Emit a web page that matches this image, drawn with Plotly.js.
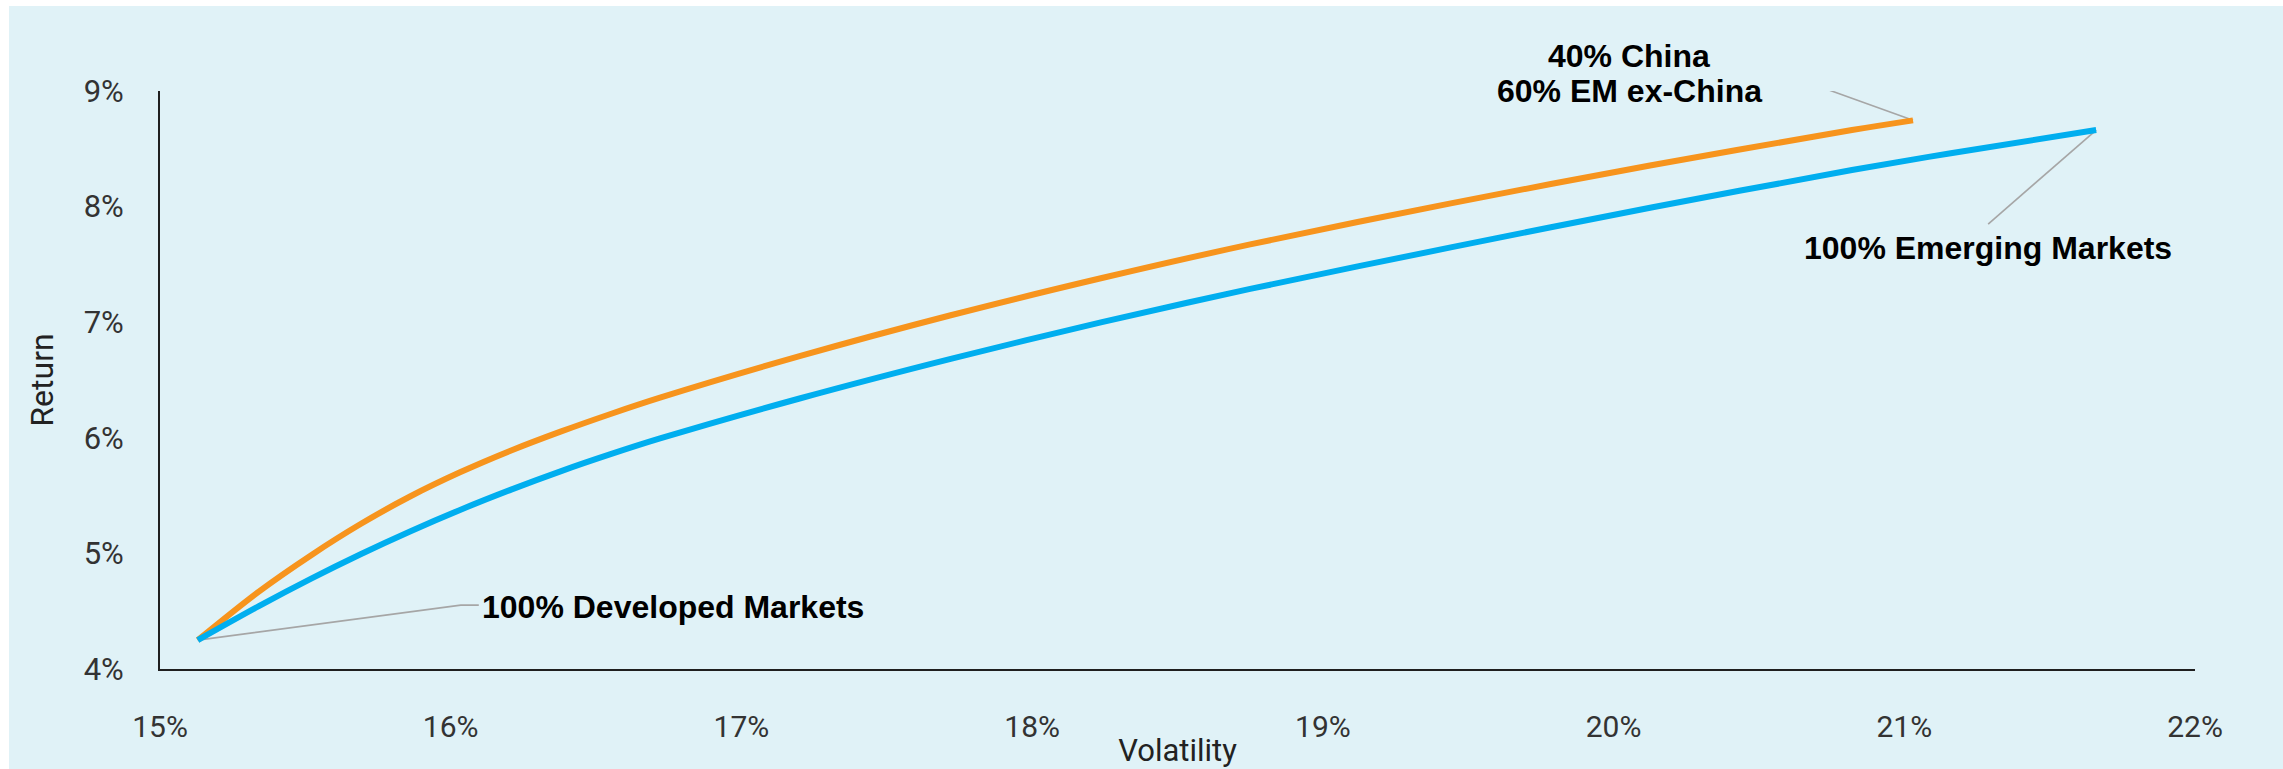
<!DOCTYPE html>
<html>
<head>
<meta charset="utf-8">
<script src="https://cdn.plot.ly/plotly-3.0.1.min.js"></script>
<style>
  html, body { margin: 0; padding: 0; background: #ffffff; }
  #chart { position: absolute; left: 9px; top: 6px; width: 2274px; height: 763px; }
</style>
</head>
<body>
<div id="chart"></div>
<script>
// Volatility (%) and Return (%)
const chinaMixVol = [15.13, 15.34, 15.52, 15.69, 15.86, 16.03, 16.21, 16.38, 16.55, 16.72, 17.20, 17.72, 18.24, 18.75, 19.44, 20.13, 20.82, 21.03];
const chinaMixRet = [4.25, 4.67, 4.985, 5.254, 5.492, 5.699, 5.892, 6.055, 6.206, 6.347, 6.706, 7.06, 7.382, 7.673, 8.028, 8.358, 8.662, 8.746];
const emVol = [15.13, 15.34, 15.52, 15.69, 15.86, 16.03, 16.21, 16.38, 16.55, 16.72, 17.20, 17.72, 18.24, 18.75, 19.44, 20.13, 20.82, 21.16, 21.66];
const emRet = [4.25, 4.544, 4.782, 4.993, 5.19, 5.374, 5.554, 5.712, 5.858, 5.994, 6.34, 6.683, 7.00, 7.288, 7.647, 7.992, 8.316, 8.462, 8.662];

const xTicks = [15, 16, 17, 18, 19, 20, 21, 22];
const yTicks = [4, 5, 6, 7, 8, 9];

const labelDM = "100% Developed Markets";
const labelEM = "100% Emerging Markets";
const labelMix1 = "40% China";
const labelMix2 = "60% EM ex-China";

const bg = "#E0F2F7";
const orange = "#F7941D";
const blue = "#00AEEF";
const leader = "#A6A6A6";

const traces = [
  { x: chinaMixVol, y: chinaMixRet, type: "scatter", mode: "lines", name: "40% China / 60% EM ex-China",
    line: { color: orange, width: 6, shape: "spline", smoothing: 0.9 }, hoverinfo: "skip" },
  { x: emVol, y: emRet, type: "scatter", mode: "lines", name: "100% Emerging Markets",
    line: { color: blue, width: 6, shape: "spline", smoothing: 0.9 }, hoverinfo: "skip" }
];

const dmX = emVol[0], dmY = emRet[0];
const emX = emVol[emVol.length - 1], emY = emRet[emRet.length - 1];
const mxX = chinaMixVol[chinaMixVol.length - 1], mxY = chinaMixRet[chinaMixRet.length - 1];

const annFont = { family: "Liberation Sans, Arial, sans-serif", size: 32, color: "#000000", weight: 700 };

function leaderShape(x, y, path) {
  return { type: "path", xref: "x", yref: "y", xsizemode: "pixel", ysizemode: "pixel",
    xanchor: x, yanchor: y, path: path, line: { color: leader, width: 1.6 }, layer: "below" };
}

const layout = {
  width: 2274, height: 763,
  paper_bgcolor: bg, plot_bgcolor: bg,
  margin: { l: 151, r: 88, t: 85, b: 100 },
  showlegend: false,
  xaxis: {
    range: [15, 22], tickvals: xTicks, ticktext: xTicks.map(v => v + "%"),
    showgrid: false, zeroline: false, showline: true, linecolor: "#1f1f1f", linewidth: 2,
    ticks: "", ticklabelstandoff: 30,
    tickfont: { family: "Roboto, sans-serif", size: 30, color: "#333333" },
    title: { text: "Volatility", standoff: 14, font: { family: "Roboto, sans-serif", size: 31, color: "#222222" } },
    automargin: false, fixedrange: true
  },
  yaxis: {
    range: [4, 9], tickvals: yTicks, ticktext: yTicks.map(v => v + "%"),
    showgrid: false, zeroline: false, showline: true, linecolor: "#1f1f1f", linewidth: 2,
    ticks: "", ticklabelstandoff: 28,
    tickfont: { family: "Roboto, sans-serif", size: 31, color: "#333333" },
    title: { text: "Return", standoff: 20, font: { family: "Roboto, sans-serif", size: 32, color: "#222222" } },
    automargin: false, fixedrange: true
  },
  shapes: [
    leaderShape(dmX, dmY, "M0,0 L263,35 L281,35"),
    leaderShape(mxX, mxY, "M0,0 L-133,48 L-143,48"),
    leaderShape(emX, emY, "M0,0 L-108,-94")
  ],
  annotations: [
    { x: dmX, y: dmY, xref: "x", yref: "y", text: labelDM, showarrow: false,
      xanchor: "left", yanchor: "middle", xshift: 282, yshift: 33, font: annFont },
    { x: mxX, y: mxY, xref: "x", yref: "y", text: labelMix1, showarrow: false,
      xanchor: "center", yanchor: "middle", xshift: -284, yshift: 64, font: annFont },
    { x: mxX, y: mxY, xref: "x", yref: "y", text: labelMix2, showarrow: false,
      xanchor: "center", yanchor: "middle", xshift: -284, yshift: 29, font: annFont },
    { x: emX, y: emY, xref: "x", yref: "y", text: labelEM, showarrow: false,
      xanchor: "center", yanchor: "middle", xshift: -108, yshift: -118, font: annFont }
  ]
};

Plotly.newPlot("chart", traces, layout, { staticPlot: true, displayModeBar: false });
</script>
</body>
</html>
